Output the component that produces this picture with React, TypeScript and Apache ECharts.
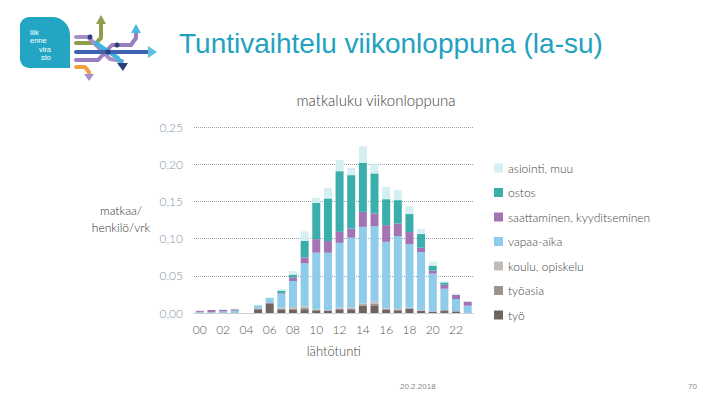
import React, { useEffect, useRef } from "react";
import * as echarts from "echarts";

const hours = ["00","01","02","03","04","05","06","07","08","09","10","11","12","13","14","15","16","17","18","19","20","21","22","23"];
const yTicks = [0, 0.05, 0.1, 0.15, 0.2, 0.25];

const tyo = [0.0005,0,0,0,0,0.005,0.013,0.004,0.004,0.005,0.0036,0.0027,0.004,0.0049,0.0098,0.0103,0.004,0.0036,0.0054,0.0027,0.0018,0.003,0.0022,0];
const tyoasia = [0,0,0,0,0,0.001,0.0005,0.002,0.002,0.002,0.0008,0.0008,0.0015,0.0014,0.002,0.0025,0.0012,0.001,0.001,0.0007,0,0.001,0,0];
const koulu = [0,0,0,0,0,0,0,0.001,0.002,0.002,0.0005,0.0005,0.0015,0.0013,0.001,0.0025,0.001,0.0008,0.0008,0.0006,0.0005,0,0,0];
const vapaa = [0.001,0.001,0.002,0.003,0,0.003,0.006,0.019,0.035,0.0577,0.0761,0.077,0.0873,0.0936,0.103,0.1016,0.0895,0.098,0.0855,0.0779,0.0506,0.0286,0.0166,0.0098];
const saatt = [0.0015,0.003,0.002,0.002,0,0,0,0.001,0.005,0.008,0.0183,0.0157,0.0148,0.0125,0.0201,0.017,0.0224,0.017,0.0161,0.0058,0.004,0.0054,0.0054,0.0054];
const ostos = [0,0,0,0,0,0.001,0.0005,0.003,0.0035,0.0224,0.0488,0.0573,0.0815,0.0716,0.0658,0.0537,0.0349,0.0313,0.0242,0.0184,0.0067,0.0031,0,0];
const asiointi = [0,0,0.001,0.001,0,0.001,0.001,0.002,0.005,0.0125,0.0067,0.0143,0.0148,0.0098,0.0224,0.0125,0.0166,0.0134,0.0107,0.0067,0.0054,0.0013,0.0022,0];

const seriesDefs = [
  { name: "työ", data: tyo, color: "#6f6461" },
  { name: "työasia", data: tyoasia, color: "#9c9490" },
  { name: "koulu, opiskelu", data: koulu, color: "#c2bcb8" },
  { name: "vapaa-aika", data: vapaa, color: "#8fcbea" },
  { name: "saattaminen, kyyditseminen", data: saatt, color: "#a374b4" },
  { name: "ostos", data: ostos, color: "#39aeaa" },
  { name: "asiointi, muu", data: asiointi, color: "#d3eff2" },
];

const FONT = "Lato, 'Noto Sans', sans-serif";
const LOGO_FONT = "7.5px 'Liberation Sans', sans-serif";

export default function App() {
  const ref = useRef<HTMLDivElement>(null);
  useEffect(() => {
    if (!ref.current) return;
    const chart = echarts.init(ref.current, null, { renderer: "svg" });
    const lineStyle = (color: string) => ({ stroke: color, lineWidth: 4, lineCap: "round", lineJoin: "round", fill: null });
    chart.setOption({
      animation: false,
      backgroundColor: "#ffffff",
      textStyle: { fontFamily: FONT },
      title: {
        text: "matkaluku viikonloppuna",
        left: 371,
        textAlign: "center",
        top: 87,
        textStyle: { fontSize: 15, fontWeight: 300, color: "#404040", fontFamily: FONT },
      },
      legend: {
        orient: "vertical",
        left: 489,
        top: 156,
        itemWidth: 9,
        itemHeight: 9,
        itemGap: 10.5,
        icon: "rect",
        data: seriesDefs.map((s) => s.name).reverse(),
        textStyle: { fontSize: 12, fontWeight: 300, color: "#444", fontFamily: FONT, lineHeight: 14 },
      },
      grid: { left: 194, right: 246.5, top: 127, bottom: 92 },
      xAxis: {
        type: "category",
        data: hours,
        name: "lähtötunti",
        nameLocation: "middle",
        nameGap: 31,
        nameTextStyle: { fontSize: 13, fontWeight: 300, color: "#444", fontFamily: FONT },
        axisLine: { lineStyle: { color: "#d0d0d0", width: 1 } },
        axisTick: { show: false },
        axisLabel: { interval: 1, color: "#555", fontSize: 12, fontWeight: 300, margin: 10, fontFamily: FONT },
      },
      yAxis: {
        type: "value",
        min: yTicks[0],
        max: yTicks[yTicks.length - 1],
        interval: 0.05,
        axisLine: { show: false },
        axisTick: { show: false },
        axisLabel: {
          color: "#8494a4",
          fontSize: 12,
          fontWeight: 300,
          margin: 11,
          fontFamily: FONT,
          formatter: (v: number) => v.toFixed(2).replace(".", ","),
        },
        splitLine: { lineStyle: { color: "#98a3ae", type: "dotted", width: 1 } },
      },
      series: seriesDefs.map((s) => ({
        name: s.name,
        type: "bar",
        stack: "total",
        barWidth: 8,
        data: s.data,
        itemStyle: { color: s.color },
      })),
      graphic: [
        { type: "rect", shape: { x: 20, y: 17, width: 50, height: 51, r: [9, 18, 0, 9] }, style: { fill: "#23a6c4" } },
        { type: "text", style: { x: 30, y: 28, text: "liik", fill: "#fff", font: LOGO_FONT, verticalAlign: "top" } },
        { type: "text", style: { x: 30, y: 36.5, text: "enne", fill: "#fff", font: LOGO_FONT, verticalAlign: "top" } },
        { type: "text", style: { x: 51, y: 45, text: "vira", fill: "#fff", font: LOGO_FONT, verticalAlign: "top", align: "right" } },
        { type: "text", style: { x: 51, y: 53.5, text: "sto", fill: "#fff", font: LOGO_FONT, verticalAlign: "top", align: "right" } },
        { type: "polyline", shape: { points: [[76, 43], [96, 43], [101, 38], [101, 22]] }, style: lineStyle("#8e9f4c") },
        { type: "polygon", shape: { points: [[96, 24], [101, 15], [106, 24]] }, style: { fill: "#8e9f4c" } },
        { type: "polyline", shape: { points: [[76, 37], [88, 37], [98, 47], [110, 59], [122, 61]] }, style: lineStyle("#a88fc9") },
        { type: "polyline", shape: { points: [[76, 60], [98, 60], [112, 45], [131, 45], [136, 38], [136, 32]] }, style: lineStyle("#9a7cc0") },
        { type: "polygon", shape: { points: [[131, 33], [136, 24], [141, 33]] }, style: { fill: "#4ab8e2" } },
        { type: "polyline", shape: { points: [[96, 43], [106, 50], [118, 58], [122, 64]] }, style: lineStyle("#3bb6e0") },
        { type: "polygon", shape: { points: [[117, 63], [123, 71], [128, 63]] }, style: { fill: "#2c3f7a" } },
        { type: "polyline", shape: { points: [[76, 52], [150, 52]] }, style: lineStyle("#3c62b0") },
        { type: "polygon", shape: { points: [[148, 46], [157, 52], [148, 58]] }, style: { fill: "#5cc0e6" } },
        { type: "polyline", shape: { points: [[76, 67], [85, 67], [89, 72], [89, 75]] }, style: lineStyle("#f0a23f") },
        { type: "polygon", shape: { points: [[84, 74], [89, 81], [94, 74]] }, style: { fill: "#a88fc9" } },
        { type: "circle", shape: { cx: 90, cy: 37, r: 2.5 }, style: { fill: "#2c3f7a" } },
        { type: "circle", shape: { cx: 108, cy: 52, r: 2.5 }, style: { fill: "#2c3f7a" } },
        { type: "circle", shape: { cx: 117, cy: 45, r: 2.5 }, style: { fill: "#2c3f7a" } },
        {
          type: "text",
          style: { x: 179, y: 43, text: "Tuntivaihtelu viikonloppuna (la-su)", fill: "#22a2bf", font: "28px 'Liberation Sans', Arial, sans-serif", verticalAlign: "middle" },
        },
        {
          type: "text",
          style: { x: 121, y: 219, text: "matkaa/\nhenkilö/vrk", fill: "#333", font: `300 12px ${FONT}`, align: "center", verticalAlign: "middle", lineHeight: 17 },
        },
        { type: "text", style: { x: 400, y: 386, text: "20.2.2018", fill: "#8a8a8a", font: "8px 'Liberation Sans', sans-serif", verticalAlign: "middle" } },
        { type: "text", style: { x: 688, y: 386, text: "70", fill: "#8a8a8a", font: "8px 'Liberation Sans', sans-serif", verticalAlign: "middle" } },
      ],
    });
    return () => chart.dispose();
  }, []);
  return <div ref={ref} style={{ position: "fixed", left: 0, top: 0, width: 720, height: 405 }} />;
}
